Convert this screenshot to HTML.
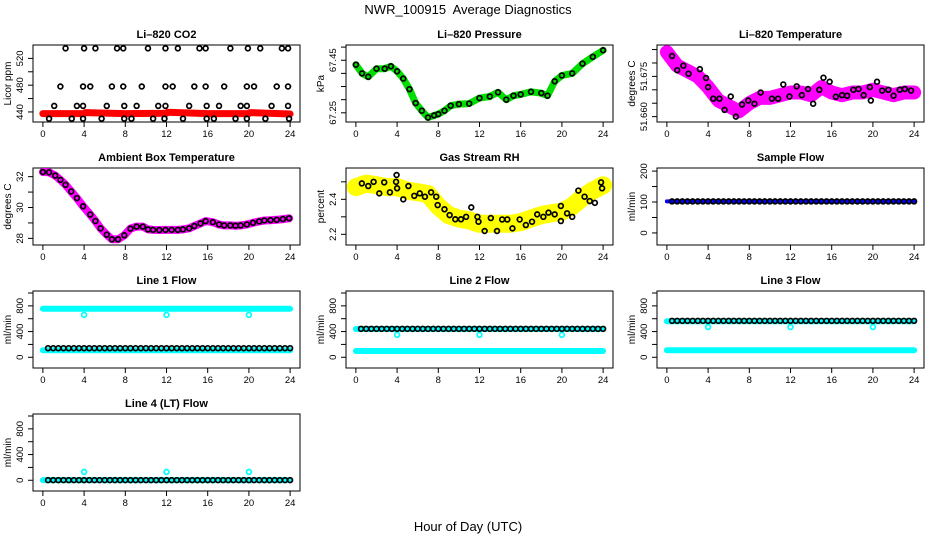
<!DOCTYPE html>
<html><head><meta charset="utf-8"><style>
html,body{margin:0;padding:0;background:#fff;}
svg{display:block;font-family:"Liberation Sans",Arial,sans-serif;}
</style></head><body>
<svg id="chart" width="936" height="540" viewBox="0 0 936 540" xmlns="http://www.w3.org/2000/svg">
<rect x="0" y="0" width="936" height="540" fill="#fff"/>
<text x="468" y="14" text-anchor="middle" font-size="13" xml:space="preserve">NWR_100915  Average Diagnostics</text>
<text x="468" y="531" text-anchor="middle" font-size="13">Hour of Day (UTC)</text>
</svg>
<script>
const xTickVals = [0,4,8,12,16,20,24];
const halfHours = [0.5,1,1.5,2,2.5,3,3.5,4,4.5,5,5.5,6,6.5,7,7.5,8,8.5,9,9.5,10,10.5,11,11.5,12,12.5,13,13.5,14,14.5,15,15.5,16,16.5,17,17.5,18,18.5,19,19.5,20,20.5,21,21.5,22,22.5,23,23.5,24];
const dipTimes = [4,12,20];
// CO2
const co2T = [2.2,4.0,5.1,7.2,7.8,10.2,11.9,13.1,15.2,15.8,18.2,19.9,21.1,23.2,23.8, 1.7,3.9,4.6,6.7,7.8,9.6,11.9,12.6,14.7,15.8,17.6,19.8,20.5,22.7,23.8, 1.1,3.3,3.9,6.2,7.9,9.1,11.2,11.9,14.2,15.9,17.1,19.2,19.8,22.2,23.8, 0.6,2.8,3.9,5.7,7.9,8.6,10.7,11.8,13.6,15.9,16.6,18.7,19.8,21.6,23.9];
const co2V = [535,535,535,535,535,535,535,535,535,535,535,535,535,535,535, 478,478,478,478,478,478,478,478,478,478,478,478,478,478,478, 449,449,449,449,449,449,449,449,449,449,449,449,449,449,449, 430,430,430,430,430,430,430,430,430,430,430,430,430,430,430];
const co2RedT = [0,4,4.1,8,12,12.1,16,20,20.1,24];
const co2RedV = [437.5,437.5,439,437.5,438,439.5,437.5,437.5,439,437];
// Pressure
const presT = [0,0.6,1.2,2,2.8,3.4,4,4.6,5.2,5.8,6.4,7,7.6,8,8.6,9.2,10,11,12,13,13.8,14.6,15.3,16,17,18,18.6,19.3,20,21,22,23,24];
const presV = [67.433,67.40,67.387,67.418,67.418,67.427,67.408,67.38,67.34,67.287,67.258,67.232,67.24,67.245,67.258,67.277,67.283,67.285,67.306,67.312,67.328,67.30,67.315,67.32,67.33,67.325,67.315,67.37,67.392,67.40,67.437,67.463,67.488];
// Li-820 temperature
const tempBandT = [0,1,2,3,4,5,6,7,8,9,10,11,12,13,14,15,16,17,18,19,20,21,22,23,24];
const tempBandV = [51.684,51.679,51.677,51.675,51.671,51.666,51.664,51.662,51.665,51.667,51.667,51.668,51.669,51.669,51.668,51.671,51.669,51.668,51.669,51.669,51.670,51.669,51.668,51.669,51.669];
const tempT = [0.5,1.0,1.6,2.1,3.2,3.8,4.0,4.5,5.1,5.6,6.2,6.7,7.3,7.9,8.5,9.1,10.2,10.8,11.3,11.9,12.6,13.1,13.7,14.2,14.8,15.2,15.8,16.4,17,17.5,18.1,18.6,19.1,19.7,19.8,20.4,20.9,21.5,22,22.6,23.1,23.7];
const tempV = [51.6826,51.6773,51.679,51.676,51.6777,51.6744,51.671,51.6667,51.6667,51.6625,51.6675,51.660,51.6645,51.666,51.6648,51.669,51.6667,51.6667,51.672,51.6675,51.6713,51.668,51.6703,51.6648,51.670,51.6745,51.673,51.6674,51.668,51.6678,51.670,51.6703,51.668,51.671,51.666,51.673,51.6697,51.670,51.6678,51.670,51.6703,51.6697];
// Ambient box temperature
const ambT = [0,0.6,1.2,1.7,2.2,2.75,3.3,3.9,4.6,5.1,5.6,6.2,6.7,7.3,7.9,8.5,9.1,9.7,10.2,10.7,11.3,11.9,12.5,13.1,13.6,14.2,14.7,15.3,15.8,16.5,17.1,17.6,18.2,18.7,19.2,19.8,20.4,21,21.5,22.1,22.7,23.3,23.9];
const ambV = [32.3,32.28,32.07,31.79,31.47,31.04,30.61,30.08,29.54,29.12,28.65,28.24,27.94,27.94,28.2,28.63,28.76,28.76,28.58,28.55,28.54,28.55,28.55,28.55,28.58,28.65,28.8,28.97,29.12,29.05,28.9,28.84,28.84,28.82,28.84,28.9,29.01,29.1,29.16,29.18,29.2,29.25,29.3];
// Gas stream RH
const rhBandT = [0,1,2,3,4,5,6,7,8,9,10,11,12,13,14,15,16,17,18,19,20,21,22,23,24];
const rhBandV = [2.47,2.49,2.48,2.47,2.47,2.45,2.44,2.43,2.36,2.31,2.29,2.28,2.26,2.26,2.26,2.26,2.27,2.29,2.31,2.32,2.33,2.36,2.41,2.45,2.48];
const rhT = [0.58,1.2,1.72,2.27,2.75,3.3,3.9,4.0,3.95,4.6,5.1,5.67,6.2,6.7,7.3,7.8,7.94,8.6,9.1,9.65,10.2,10.7,11.2,11.8,11.9,12.5,13.1,13.7,14.2,14.7,15.2,15.9,16.5,17.1,17.6,18.2,18.7,19.3,19.9,19.9,20.5,21,21.6,22.2,22.7,23.2,23.8,23.9];
const rhV = [2.491,2.476,2.50,2.434,2.497,2.44,2.50,2.463,2.539,2.40,2.476,2.42,2.434,2.415,2.44,2.415,2.367,2.343,2.31,2.286,2.286,2.30,2.354,2.30,2.272,2.219,2.293,2.219,2.285,2.285,2.234,2.285,2.253,2.272,2.314,2.30,2.324,2.314,2.362,2.276,2.32,2.30,2.45,2.415,2.39,2.38,2.497,2.463];
// Flows
const sampleFlowV = 102;
const line1Black = 141, line1CyanHi = 755, line1CyanLo = 109, line1Dip = 660;
const line2Black = 442, line2CyanHi = 440, line2CyanLo = 98, line2Dip = 350;
const line3Black = 567, line3CyanHi = 560, line3CyanLo = 110, line3Dip = 470;
const line4Black = 2, line4CyanHi = 2, line4Dip = 130;

const NS = "http://www.w3.org/2000/svg";
const svg = document.getElementById('chart');
const COLS = [33,346,657], ROWS = [45,168,291,414], W = 267, H = 77;
function mk(tag, attrs, parent){
  const el = document.createElementNS(NS, tag);
  for (const k in attrs) el.setAttribute(k, attrs[k]);
  (parent||svg).appendChild(el);
  return el;
}
function panel(col,row,name,title,ylab,ymin,ymax,yticks,ylabels){
  const L = COLS[col], T = ROWS[row], B = T+H;
  const g = mk('g',{});
  
  
  const p = {g, L, T, B,
    x: t => L + (t+0.96)*W/25.92,
    y: v => B - (v-ymin)/(ymax-ymin)*H};
  const tt = mk('text',{x:L+W/2,y:T-7,'text-anchor':'middle','font-size':11,'font-weight':'bold'},g);
  tt.textContent = title;
  
  
  const fr = mk('rect',{x:L,y:T,width:W,height:H,fill:'none',stroke:'#000','stroke-width':1},g);
  
  
  mk('line',{x1:p.x(0),x2:p.x(24),y1:B,y2:B,stroke:'#000'},g);
  xTickVals.forEach(v=>{
    mk('line',{x1:p.x(v),x2:p.x(v),y1:B,y2:B+5,stroke:'#000'},g);
    const lt = mk('text',{x:p.x(v),y:B+15,'text-anchor':'middle','font-size':9.5},g);
    lt.textContent = v;
    
    
  });
  mk('line',{x1:L,x2:L,y1:p.y(yticks[0]),y2:p.y(yticks[yticks.length-1]),stroke:'#000'},g);
  yticks.forEach(v=>{
    mk('line',{x1:L-5,x2:L,y1:p.y(v),y2:p.y(v),stroke:'#000'},g);
  });
  ylabels.forEach(lb=>{
    const yy = p.y(lb[0]);
    const yl = mk('text',{x:L-10,y:yy,'text-anchor':'middle','font-size':9.5,transform:`rotate(-90 ${L-10} ${yy})`},g);
    yl.textContent = lb[1];
    
    
  });
  const at = mk('text',{x:L-22,y:T+H/2,'text-anchor':'middle','font-size':10,transform:`rotate(-90 ${L-22} ${T+H/2})`},g);
  at.textContent = ylab;
  
  
  return p;
}
function band(p,ts,vs,color,w,name){
  const pts = ts.map((t,i)=>p.x(t).toFixed(1)+','+p.y(vs[i]).toFixed(1)).join(' ');
  const pl = mk('polyline',{points:pts,fill:'none',stroke:color,'stroke-width':w,'stroke-linejoin':'round','stroke-linecap':'round'},p.g);
  
  
}
function pts(p,ts,vs,color,name){
  ts.forEach((t,i)=>{
    const c = mk('circle',{cx:p.x(t),cy:p.y(vs[i]),r:2.4,fill:'none',stroke:color,'stroke-width':1.7},p.g);
    
    
  });
}
function constArr(n,v){ return halfHours.map(()=>v); }

let p = panel(0,0,'co2','Li\u2013820 CO2','Licor ppm',425,540,[440,460,480,500,520],[[440,'440'],[480,'480'],[520,'520']]);
band(p,co2RedT,co2RedV,'#ff0000',7,'co2-red-series');
pts(p,co2T,co2V,'#000','co2-point');
p = panel(1,0,'pressure','Li\u2013820 Pressure','kPa',67.215,67.508,[67.25,67.30,67.35,67.40,67.45,67.50],[[67.25,'67.25'],[67.45,'67.45']]);
band(p,presT,presV,'#00dd00',7,'pressure-green-series');
pts(p,presT,presV,'#000','pressure-point');
p = panel(2,0,'li820-temp','Li\u2013820 Temperature','degrees C',51.658,51.6867,[51.660,51.665,51.670,51.675,51.680,51.685],[[51.660,'51.660'],[51.675,'51.675']]);
band(p,tempBandT,tempBandV,'#ff00ff',14,'li820-temp-magenta-series');
pts(p,tempT,tempV,'#000','li820-temp-point');
p = panel(0,1,'ambient-temp','Ambient Box Temperature','degrees C',27.57,32.56,[28,29,30,31,32],[[28,'28'],[30,'30'],[32,'32']]);
band(p,ambT,ambV,'#ff00ff',8,'ambient-magenta-series');
pts(p,ambT,ambV,'#000','ambient-point');
p = panel(1,1,'gas-rh','Gas Stream RH','percent',2.139,2.579,[2.2,2.3,2.4,2.5],[[2.2,'2.2'],[2.4,'2.4']]);
band(p,rhBandT,rhBandV,'#ffff00',18,'rh-yellow-series');
pts(p,rhT,rhV,'#000','rh-point');
p = panel(2,1,'sample-flow','Sample Flow','ml/min',-39,210,[0,50,100,150,200],[[0,'0'],[100,'100'],[200,'200']]);
band(p,[0,24],[sampleFlowV,sampleFlowV],'#0000ff',4,'sample-flow-blue-series');
pts(p,halfHours,constArr(0,sampleFlowV),'#000','sample-flow-point');
const flowTicks = [0,200,400,600,800,1000];
const flowLabels = [[0,'0'],[400,'400'],[800,'800']];
function flowPanel(col,row,name,title,black,hi,lo,dip){
  const q = panel(col,row,name,title,'ml/min',-167,1031,flowTicks,flowLabels);
  band(q,[0,24],[hi,hi],'#00ffff',6,name+'-cyan-high-series');
  if (lo!==null) band(q,[0,24],[lo,lo],'#00ffff',6,name+'-cyan-low-series');
  pts(q,dipTimes,dipTimes.map(()=>dip),'#00ffff',name+'-cyan-dip-point');
  pts(q,halfHours,constArr(0,black),'#000',name+'-point');
}
flowPanel(0,2,'line1-flow','Line 1 Flow',line1Black,line1CyanHi,line1CyanLo,line1Dip);
flowPanel(1,2,'line2-flow','Line 2 Flow',line2Black,line2CyanHi,line2CyanLo,line2Dip);
flowPanel(2,2,'line3-flow','Line 3 Flow',line3Black,line3CyanHi,line3CyanLo,line3Dip);
flowPanel(0,3,'line4-flow','Line 4 (LT) Flow',line4Black,line4CyanHi,null,line4Dip);
</script>
</body></html>
